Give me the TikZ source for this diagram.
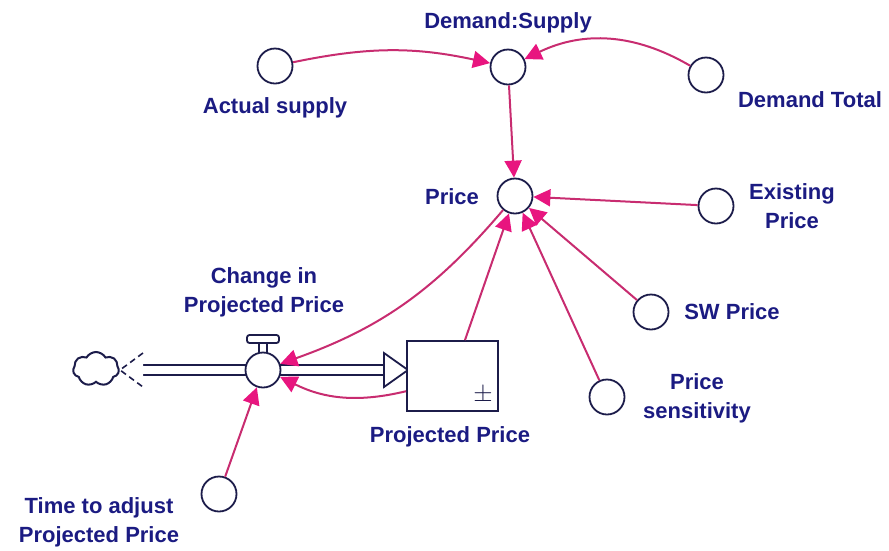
\documentclass[tikz,border=0pt]{standalone}
\usepackage{fontspec}
\setmainfont{Liberation Sans}
\usepackage{tikz}
\usetikzlibrary{
    arrows.meta, shapes.symbols, positioning, calc
}
\definecolor{inkNavy}{HTML}{1B1B82}
\definecolor{edgeNavy}{HTML}{1C1C4A}
\definecolor{linkPink}{HTML}{C82C70}
\definecolor{tipPink}{HTML}{E8157F}
\newcommand{\AuxVar}[3]{
    \node[auxvar] (#1) at (#2,#3) {};
}

\begin{document}
\begin{tikzpicture}[x=1pt, y=-1pt,
    auxvar/.style={circle, draw=edgeNavy, line width=1.8pt, fill=white, minimum size=35pt, inner sep=0pt},
    lbl/.style={text=inkNavy, font=\fontsize{22}{29}\selectfont\bfseries, align=center, inner sep=0pt},
    link/.style={draw=linkPink, line width=2pt, -{Triangle[length=17pt, width=17pt, color=tipPink]}},
    pipe/.style={draw=edgeNavy, line width=1.8pt, double=white, double distance=8pt}
    ]
        \useasboundingbox (0,0) rectangle (889,550);

        % Flow pipe
        \coordinate (srcEnd) at (143,370);
        \coordinate (flowEnd) at (386,370);
        \draw[pipe] (srcEnd) -- (flowEnd);
        \node[cloud, draw=edgeNavy, line width=2pt, cloud puffs=7, cloud puff arc=120, aspect=1.4, minimum width=46pt, minimum height=34pt, inner sep=0pt] (source) at (96,369) {};
        \draw[edgeNavy, line width=1.6pt, dash pattern=on 6pt off 4pt, fill=white] (143,353) -- (120,370) -- (143,387);
        \draw[edgeNavy, line width=1.8pt, fill=white] (384,353) -- (408,370) -- (384,387) -- cycle;

        % Stock
        \node[draw=edgeNavy, line width=1.8pt, fill=white, minimum width=91pt, minimum height=70pt, inner sep=0pt] (stock) at (452.5,376) {};
        \node[text=edgeNavy, font=\fontsize{26}{26}\selectfont] (pm) at (483,395) {$\pm$};

        % Valve
        \draw[edgeNavy, line width=1.8pt] (259,343) -- (259,354) (267,343) -- (267,354);
        \draw[edgeNavy, line width=1.8pt, fill=white, rounded corners=2.5pt] (247,335) rectangle (279,343);
        \AuxVar{valve}{263}{370}

        % Auxiliaries
        \AuxVar{actual}{275}{66}
        \AuxVar{ratio}{508}{67}
        \AuxVar{demandTot}{706}{75}
        \AuxVar{price}{515}{196}
        \AuxVar{existing}{716}{206}
        \AuxVar{swPrice}{651}{312}
        \AuxVar{sens}{607}{397}
        \AuxVar{timeAdj}{219}{494}

        % Labels
        \node[lbl] (lblRatio) at (508,23) {Demand:Supply};
        \node[lbl] (lblActual) at (275,108) {Actual supply};
        \node[lbl] (lblDemand) at (810,100) {Demand Total};
        \node[lbl] (lblPrice) at (452,197) {Price};
        \node[lbl] (lblExisting) at (792,206) {Existing\\Price};
        \node[lbl] (lblSW) at (732,312) {SW Price};
        \node[lbl] (lblSens) at (697,398) {Price\\sensitivity};
        \node[lbl] (lblChange) at (264,292) {Change in\\Projected Price};
        \node[lbl] (lblStock) at (450,437) {Projected Price};
        \node[lbl] (lblTime) at (99,522) {Time to adjust\\Projected Price};

        % Links
        \draw[link] (actual) to[bend left=12] (ratio);
        \draw[link] (demandTot) to[bend right=28] (ratio);
        \draw[link] (ratio) -- (price);
        \draw[link] (existing) -- (price);
        \draw[link] (swPrice) -- (price);
        \draw[link] (sens) -- (price);
        \draw[link] (stock) -- (price);
        \draw[link] (price) to[bend left=15] (valve);
        \draw[link] (stock) to[bend left=20] (valve);
        \draw[link] (timeAdj) -- (valve);
    \end{tikzpicture}
\end{document}
